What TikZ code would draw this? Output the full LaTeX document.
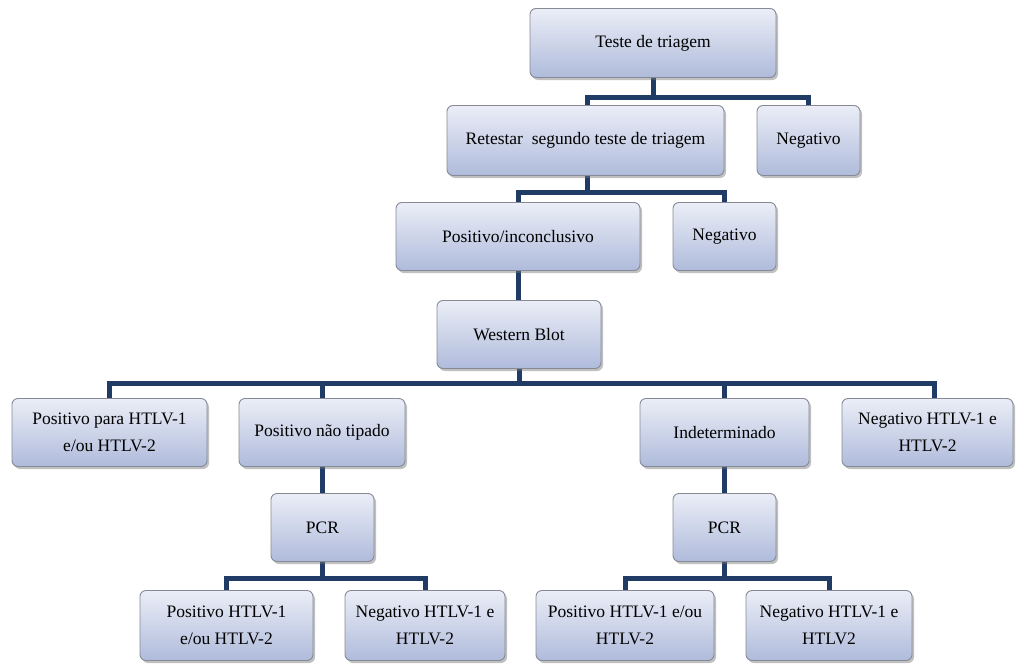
\documentclass[tikz,border=0pt]{standalone}
\usepackage{fontspec}
\setmainfont{Liberation Serif}
\usetikzlibrary{shadows,backgrounds}

\definecolor{linknavy}{HTML}{1F3B66}
\definecolor{boxtop}{HTML}{EBEEF7}
\definecolor{boxbottom}{HTML}{AFBBDB}
\definecolor{boxedge}{HTML}{858A96}

\tikzset{
  flowbox/.style={draw=boxedge, line width=0.9pt, rounded corners=6pt,
    top color=boxtop, bottom color=boxbottom,
    drop shadow={shadow xshift=2pt, shadow yshift=-2.5pt, opacity=0.45, fill=black!55},
    inner sep=0pt, align=center, font=\fontsize{17.5}{27}\selectfont, text=black},
  link/.style={draw=linknavy, line width=5pt, line join=miter}
}

% box helper: name, left, top, right, bottom, text
\newcommand{\flowbx}[6]{%
  \pgfmathsetmacro{\bxw}{#4-#2}\pgfmathsetmacro{\bxh}{#5-#3}%
  \node[flowbox, minimum width=\bxw pt, minimum height=\bxh pt] (#1)
    at ({(#2+#4)/2},{(#3+#5)/2-1.5}) {#6};}

\begin{document}
\begin{tikzpicture}[x=1pt,y=-1pt]
  \useasboundingbox (0,0) rectangle (1020,664);

  % first screening stages
  \flowbx{teste}{530}{10}{776}{79}{Teste de triagem}
  \flowbx{retestar}{447}{107}{724}{177}{Retestar\ \ segundo teste de triagem}
  \flowbx{negA}{757}{107}{860}{177}{Negativo}
  \flowbx{posinc}{396}{204}{640}{272}{Positivo/inconclusivo}
  \flowbx{negB}{673}{204}{776}{272}{Negativo}
  \flowbx{wb}{437}{302}{601}{370}{Western Blot}

  % Western Blot outcomes
  \flowbx{pospara}{12}{400}{207}{468}{Positivo para HTLV-1\\e/ou HTLV-2}
  \flowbx{posnt}{239}{400}{405}{468}{Positivo não tipado}
  \flowbx{indet}{640}{400}{809}{468}{Indeterminado}
  \flowbx{negwb}{842}{400}{1013}{468}{Negativo HTLV-1 e\\HTLV-2}

  % PCR confirmations
  \flowbx{pcrL}{271}{495}{374}{563}{PCR}
  \flowbx{pcrR}{673}{495}{776}{563}{PCR}
  \flowbx{posL}{140}{592}{313}{662}{Positivo HTLV-1\\e/ou HTLV-2}
  \flowbx{negL}{345}{592}{505}{662}{Negativo HTLV-1 e\\HTLV-2}
  \flowbx{posR}{536}{592}{714}{662}{Positivo HTLV-1 e/ou\\HTLV-2}
  \flowbx{negR}{746}{592}{912}{662}{Negativo HTLV-1 e\\HTLV2}

  \begin{scope}[on background layer]
    \coordinate (tj) at (teste.south |- 0,97);
    \draw[link] (teste.south) -- (tj);
    \draw[link] (tj) -| ([xshift=2pt]retestar.north);
    \draw[link] (tj) -| (negA.north);

    \coordinate (rj) at ([xshift=2pt]retestar.south |- 0,192);
    \draw[link] ([xshift=2pt]retestar.south) -- (rj);
    \draw[link] (rj) -| (posinc.north);
    \draw[link] (rj) -| (negB.north);

    \draw[link] (posinc.south) -- (posinc.south |- wb.north);

    \coordinate (wj) at (wb.south |- 0,383);
    \draw[link] (wb.south) -- (wj);
    \draw[link] (wj) -| (pospara.north);
    \draw[link] (wj) -| (posnt.north);
    \draw[link] (wj) -| (indet.north);
    \draw[link] (wj) -| ([xshift=7pt]negwb.north);

    \draw[link] (posnt.south) -- (posnt.south |- pcrL.north);
    \draw[link] (indet.south) -- (indet.south |- pcrR.north);

    \coordinate (plj) at (pcrL.south |- 0,578);
    \draw[link] (pcrL.south) -- (plj);
    \draw[link] (plj) -| (posL.north);
    \draw[link] (plj) -| (negL.north);

    \coordinate (prj) at (pcrR.south |- 0,578);
    \draw[link] (pcrR.south) -- (prj);
    \draw[link] (prj) -| (posR.north);
    \draw[link] (prj) -| (negR.north);
  \end{scope}
\end{tikzpicture}
\end{document}
